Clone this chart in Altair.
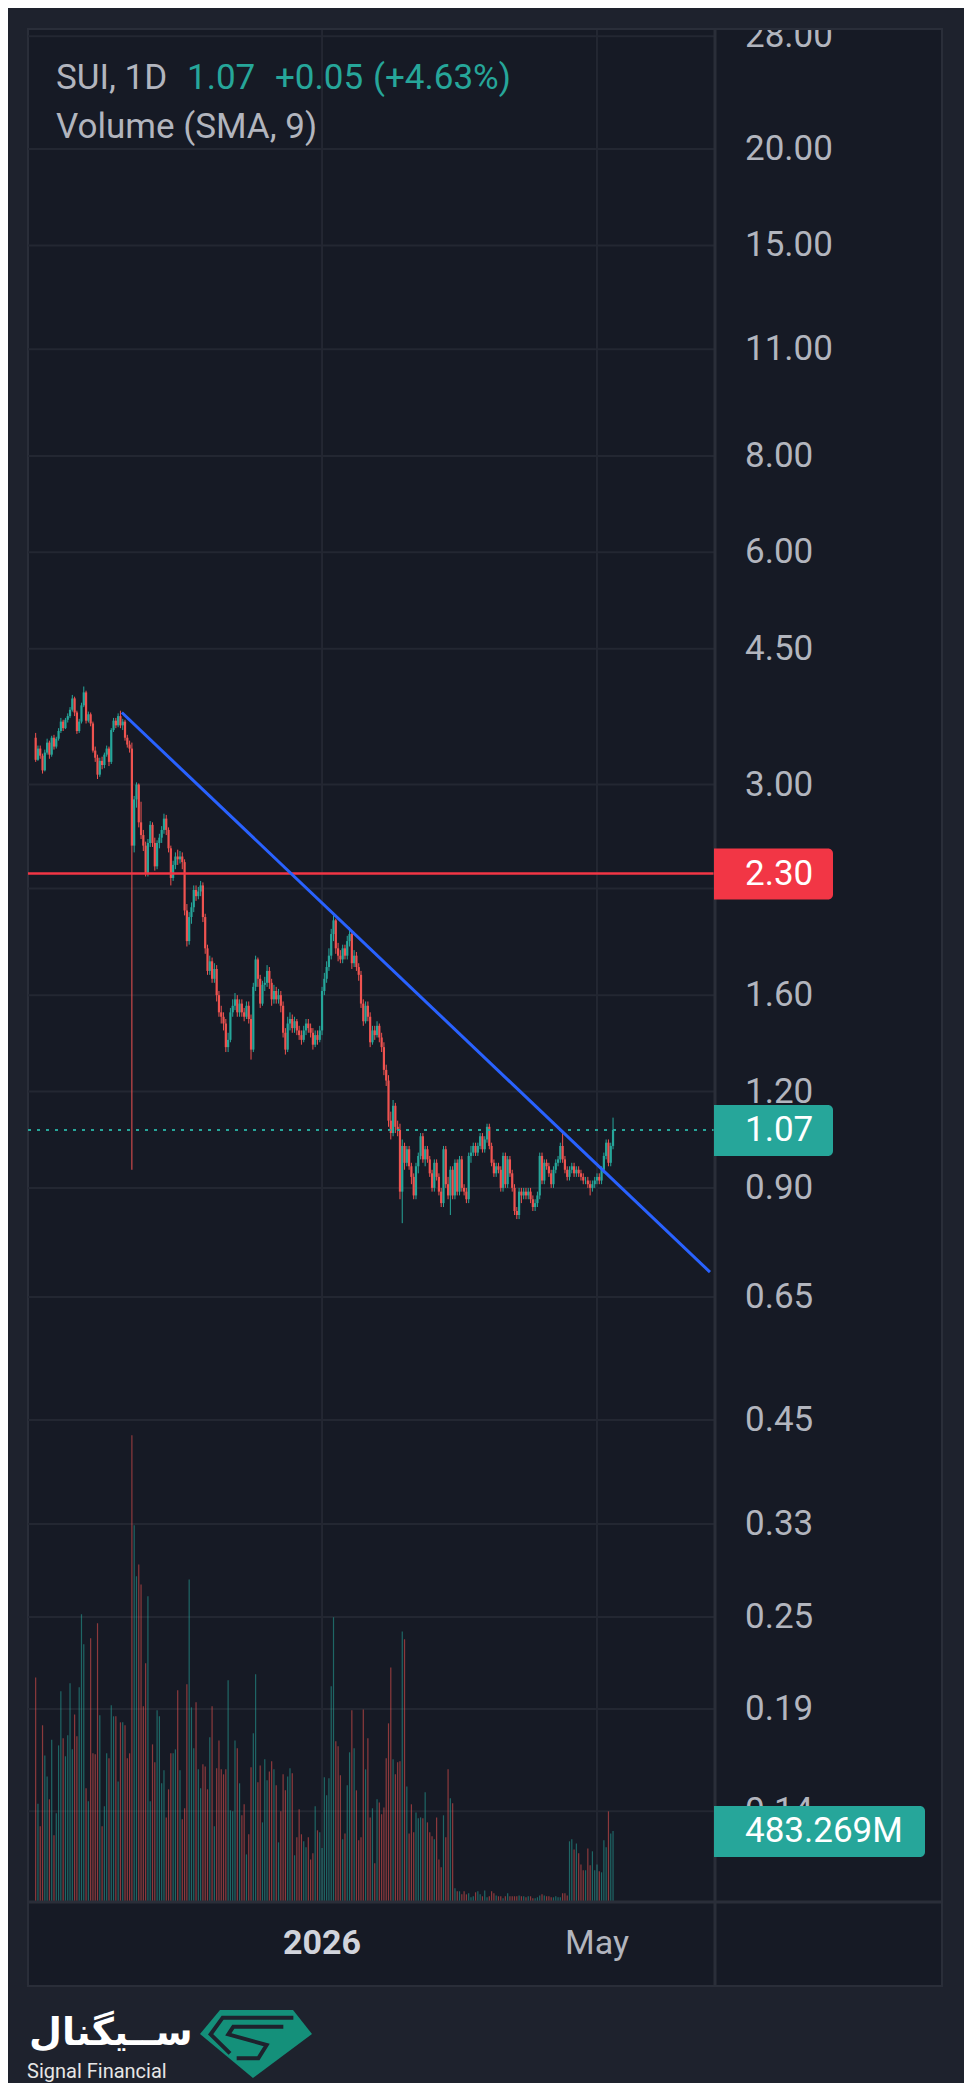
import altair as alt
import numpy as np
import pandas as pd

# ---------------- data ----------------
START_DATE = "2025-08-29"
FIRST_OPEN = 3.45

closes = [
    3.23, 3.34, 3.27, 3.13, 3.30, 3.40, 3.28, 3.45, 3.36, 3.44,
    3.52, 3.62, 3.55, 3.64, 3.68, 3.75, 3.88, 3.72, 3.52, 3.62,
    3.80, 3.95, 3.63, 3.70, 3.60, 3.32, 3.25, 3.09, 3.22, 3.18,
    3.28, 3.34, 3.21, 3.53, 3.63, 3.58, 3.68, 3.58, 3.62, 3.45,
    3.38, 3.34, 2.50, 2.87, 3.00, 2.68, 2.58, 2.50, 2.30, 2.52,
    2.66, 2.52, 2.35, 2.52, 2.56, 2.62, 2.71, 2.62, 2.48, 2.27,
    2.36, 2.42, 2.40, 2.42, 2.38, 2.06, 1.88, 2.02, 2.08, 2.19,
    2.15, 2.18, 2.22, 2.02, 1.84, 1.72, 1.77, 1.68, 1.73, 1.60,
    1.52, 1.50, 1.47, 1.37, 1.40, 1.52, 1.55, 1.58, 1.52, 1.56,
    1.52, 1.50, 1.55, 1.49, 1.36, 1.64, 1.78, 1.68, 1.56, 1.65,
    1.66, 1.72, 1.66, 1.58, 1.62, 1.58, 1.60, 1.55, 1.43, 1.36,
    1.47, 1.49, 1.45, 1.48, 1.44, 1.42, 1.40, 1.44, 1.47, 1.45,
    1.43, 1.38, 1.42, 1.40, 1.44, 1.62, 1.68, 1.74, 1.80, 1.92,
    2.00, 1.84, 1.80, 1.78, 1.84, 1.80, 1.88, 1.92, 1.76, 1.80,
    1.74, 1.70, 1.56, 1.48, 1.55, 1.50, 1.39, 1.44, 1.42, 1.46,
    1.41, 1.37, 1.28, 1.24, 1.10, 1.06, 1.15, 1.08, 1.07, 0.89,
    1.02, 0.97, 1.01, 0.96, 0.93, 0.88, 0.96, 0.99, 1.05, 0.98,
    1.01, 0.98, 0.94, 0.90, 0.97, 0.93, 0.89, 0.86, 1.01, 0.91,
    0.88, 0.95, 0.88, 0.97, 0.89, 0.98, 0.90, 0.89, 0.87, 0.99,
    1.00, 1.02, 1.00, 1.02, 1.05, 1.01, 1.04, 1.08, 1.02, 0.97,
    0.94, 0.96, 0.95, 0.90, 0.99, 0.91, 0.98, 0.94, 0.90, 0.84,
    0.83, 0.89, 0.88, 0.89, 0.88, 0.89, 0.87, 0.85, 0.86, 0.88,
    0.99, 0.92, 0.97, 0.96, 0.94, 0.91, 0.95, 0.97, 0.98, 1.02,
    0.98, 0.95, 0.93, 0.95, 0.96, 0.94, 0.95, 0.94, 0.93, 0.92,
    0.92, 0.91, 0.90, 0.91, 0.92, 0.93, 0.92, 0.95, 0.99, 1.03,
    0.97, 1.02, 1.07,
]

highs = [
    3.50, 3.37, 3.37, 3.29, 3.33, 3.44, 3.42, 3.47, 3.48, 3.46,
    3.55, 3.66, 3.64, 3.66, 3.71, 3.78, 3.92, 3.90, 3.74, 3.65,
    3.83, 4.02, 3.97, 3.73, 3.72, 3.62, 3.36, 3.28, 3.25, 3.26,
    3.30, 3.37, 3.36, 3.55, 3.66, 3.66, 3.71, 3.74, 3.65, 3.64,
    3.48, 3.42, 3.40, 2.90, 3.02, 3.01, 2.85, 2.62, 2.53, 2.55,
    2.69, 2.68, 2.56, 2.54, 2.59, 2.65, 2.75, 2.74, 2.64, 2.50,
    2.39, 2.45, 2.47, 2.46, 2.45, 2.40, 2.10, 2.05, 2.11, 2.22,
    2.22, 2.21, 2.25, 2.24, 2.04, 1.86, 1.80, 1.79, 1.76, 1.75,
    1.62, 1.55, 1.52, 1.49, 1.43, 1.54, 1.58, 1.61, 1.60, 1.58,
    1.58, 1.54, 1.57, 1.57, 1.51, 1.66, 1.80, 1.79, 1.70, 1.67,
    1.69, 1.75, 1.74, 1.68, 1.65, 1.64, 1.63, 1.62, 1.57, 1.45,
    1.50, 1.52, 1.51, 1.50, 1.49, 1.46, 1.44, 1.46, 1.49, 1.49,
    1.47, 1.45, 1.44, 1.44, 1.46, 1.64, 1.71, 1.77, 1.84, 1.95,
    2.03, 2.01, 1.87, 1.83, 1.86, 1.86, 1.91, 1.96, 1.93, 1.83,
    1.82, 1.76, 1.72, 1.58, 1.57, 1.57, 1.52, 1.46, 1.46, 1.48,
    1.47, 1.43, 1.39, 1.30, 1.26, 1.13, 1.17, 1.16, 1.10, 1.09,
    1.04, 1.03, 1.02, 1.02, 0.97, 0.94, 0.97, 1.00, 1.06, 1.06,
    1.02, 1.02, 0.99, 0.95, 0.98, 0.98, 0.94, 0.90, 1.02, 1.02,
    0.93, 0.96, 0.96, 0.98, 0.98, 0.99, 0.99, 0.91, 0.90, 1.00,
    1.02, 1.03, 1.03, 1.03, 1.06, 1.06, 1.05, 1.09, 1.09, 1.03,
    0.98, 0.97, 0.97, 0.96, 1.00, 1.00, 0.99, 0.99, 0.95, 0.91,
    0.85, 0.90, 0.90, 0.90, 0.90, 0.90, 0.90, 0.88, 0.87, 0.89,
    1.00, 1.00, 0.98, 0.98, 0.97, 0.95, 0.96, 0.98, 0.99, 1.03,
    1.06, 0.99, 0.96, 0.96, 0.97, 0.97, 0.96, 0.96, 0.95, 0.94,
    0.93, 0.93, 0.92, 0.92, 0.93, 0.94, 0.94, 0.96, 1.00, 1.04,
    1.04, 1.03, 1.11,
]

lows = [
    3.21, 3.22, 3.24, 3.10, 3.12, 3.28, 3.24, 3.26, 3.33, 3.34,
    3.42, 3.50, 3.52, 3.54, 3.61, 3.66, 3.73, 3.68, 3.49, 3.50,
    3.60, 3.78, 3.60, 3.61, 3.57, 3.30, 3.21, 3.05, 3.07, 3.14,
    3.15, 3.26, 3.17, 3.19, 3.51, 3.55, 3.56, 3.55, 3.53, 3.42,
    3.35, 3.30, 0.95, 2.45, 2.80, 2.64, 2.55, 2.46, 2.28, 2.28,
    2.49, 2.49, 2.32, 2.33, 2.48, 2.52, 2.59, 2.58, 2.45, 2.22,
    2.25, 2.33, 2.36, 2.37, 2.33, 2.03, 1.85, 1.86, 1.98, 2.05,
    2.12, 2.13, 2.15, 1.99, 1.81, 1.70, 1.70, 1.66, 1.66, 1.57,
    1.50, 1.47, 1.44, 1.35, 1.35, 1.39, 1.50, 1.53, 1.50, 1.50,
    1.50, 1.48, 1.49, 1.47, 1.32, 1.35, 1.62, 1.64, 1.54, 1.55,
    1.62, 1.64, 1.63, 1.55, 1.56, 1.56, 1.56, 1.52, 1.41, 1.34,
    1.35, 1.44, 1.43, 1.43, 1.42, 1.40, 1.38, 1.39, 1.42, 1.43,
    1.41, 1.36, 1.37, 1.38, 1.39, 1.42, 1.60, 1.66, 1.72, 1.78,
    1.88, 1.81, 1.77, 1.76, 1.76, 1.78, 1.78, 1.85, 1.73, 1.74,
    1.72, 1.67, 1.54, 1.46, 1.47, 1.48, 1.37, 1.38, 1.40, 1.41,
    1.39, 1.35, 1.26, 1.22, 1.08, 1.04, 1.05, 1.06, 1.05, 0.87,
    0.81, 0.95, 0.96, 0.95, 0.91, 0.87, 0.87, 0.94, 0.98, 0.97,
    0.96, 0.97, 0.93, 0.89, 0.89, 0.92, 0.88, 0.85, 0.85, 0.90,
    0.87, 0.83, 0.87, 0.87, 0.88, 0.88, 0.89, 0.88, 0.86, 0.86,
    0.97, 0.99, 0.99, 0.99, 1.01, 1.00, 1.00, 1.03, 1.01, 0.96,
    0.93, 0.93, 0.94, 0.89, 0.89, 0.90, 0.90, 0.93, 0.89, 0.83,
    0.82, 0.82, 0.86, 0.87, 0.87, 0.87, 0.86, 0.84, 0.84, 0.85,
    0.87, 0.91, 0.91, 0.95, 0.93, 0.90, 0.90, 0.94, 0.96, 0.97,
    0.97, 0.94, 0.92, 0.92, 0.94, 0.93, 0.93, 0.93, 0.92, 0.91,
    0.91, 0.90, 0.88, 0.89, 0.90, 0.91, 0.91, 0.91, 0.94, 0.98,
    0.96, 0.96, 1.01,
]

# daily volume, millions
volumes_m = [
    1529, 669, 515, 1203, 998, 855, 699, 1105, 454, 604,
    1066, 1434, 1114, 992, 1135, 1489, 1039, 1277, 1128, 1461,
    1958, 1754, 774, 685, 1795, 1012, 1005, 1897, 1271, 515,
    651, 1012, 978, 1339, 1264, 1264, 821, 1223, 1223, 1203,
    978, 1012, 3177, 2564, 2217, 2298, 2162, 1332, 1625, 2081,
    685, 1073, 951, 1305, 1264, 808, 896, 576, 767, 1012,
    1012, 1039, 1441, 896, 563, 638, 1482, 2196, 1325, 1046,
    1359, 903, 774, 937, 923, 767, 1121, 1332, 515, 910,
    1100, 903, 869, 903, 1509, 624, 617, 1100, 1046, 808,
    590, 665, 324, 461, 917, 1148, 1550, 815, 930, 542,
    971, 828, 889, 958, 903, 794, 406, 617, 869, 760,
    855, 910, 876, 318, 440, 631, 461, 413, 372, 440,
    290, 331, 651, 488, 474, 368, 849, 726, 842, 1468,
    1938, 1094, 1060, 862, 427, 467, 794, 1019, 1305, 1046,
    760, 420, 440, 1311, 903, 1114, 576, 638, 263, 699,
    678, 597, 644, 978, 1216, 1597, 971, 869, 951, 958,
    1842, 1788, 787, 467, 665, 474, 610, 570, 576, 570,
    747, 542, 474, 447, 427, 576, 290, 236, 590, 440,
    903, 706, 672, 93, 73, 73, 52, 73, 52, 59,
    32, 39, 66, 73, 52, 39, 79, 32, 39, 73,
    59, 45, 39, 39, 25, 39, 59, 39, 39, 39,
    39, 45, 39, 39, 32, 39, 39, 25, 25, 32,
    45, 52, 45, 39, 39, 32, 32, 39, 32, 32,
    59, 59, 45, 413, 427, 358, 399, 331, 256, 216,
    216, 365, 250, 345, 216, 256, 209, 202, 420, 372,
    617, 467, 483.269,
]

price_ticks = [28, 20, 15, 11, 8, 6, 4.5, 3, 2.2, 1.6, 1.2, 0.9, 0.65, 0.45, 0.33, 0.25, 0.19, 0.14]
price_tick_labels = [f"{v:.2f}" for v in price_ticks]
time_tick_dates = ["2026-01-01", "2026-05-01"]
time_tick_labels = ["2026", "May"]

resistance_level = 2.30
last_close = 1.07
last_volume_m = 483.269
trend_days = [37.6, 294.3]      # days after START_DATE
trend_prices = [3.72, 0.70]

header_symbol = "SUI, 1D"
header_price = "1.07"
header_change = "+0.05"
header_pct = "(+4.63%)"
header_volume = "Volume (SMA, 9)"
brand_fa = "ســیگنال"
brand_en = "Signal Financial"

# ---------------- tables ----------------
start = pd.Timestamp(START_DATE)
n = len(closes)
opens = [FIRST_OPEN] + closes[:-1]
candles = pd.DataFrame({
    "day": np.arange(n),
    "date": pd.date_range(start, periods=n, freq="D").strftime("%Y-%m-%d"),
    "open": opens,
    "close": closes,
    "high": highs,
    "low": lows,
    "volume": volumes_m,
})
candles["dir"] = np.where(candles["close"] >= candles["open"], "up", "down")

ticks_df = pd.DataFrame({"value": price_ticks, "label": price_tick_labels})
time_df = pd.DataFrame({
    "day": [(pd.Timestamp(d) - start).days for d in time_tick_dates],
    "label": time_tick_labels,
})
trend_df = pd.DataFrame({"day": trend_days, "price": trend_prices})
level_df = pd.DataFrame({"v": [resistance_level], "label": [f"{resistance_level:.2f}"]})
last_df = pd.DataFrame({"v": [last_close], "label": [f"{last_close:.2f}"]})
vol_df = pd.DataFrame({"v": [last_volume_m], "label": [f"{last_volume_m:.3f}M"]})
one = pd.DataFrame({"k": [0]})

# ---------------- style ----------------
W, H = 956, 2075
OUTER = "#1E222D"
PANEL = "#161A25"
GRID = "#232732"
BORDER = "#2A2E39"
UP = "#26A69A"
DOWN = "#EF5350"
LEVEL_RED = "#F23645"
BLUE = "#2962FF"
LABEL = "#B2B5BE"
FONT = "Roboto"

PLOT_L, PLOT_R, PLOT_T, PLOT_B = 20, 707, 21, 1894
PANEL_R, PANEL_B = 934, 1978

X_SCALE = alt.Scale(domain=[-1.16, 294.32], range=[PLOT_L, PLOT_R], zero=False, nice=False)
P_SCALE = alt.Scale(type="log", domain=[0.10678, 28.53], range=[PLOT_B, 22], nice=False)
V_SCALE = alt.Scale(domain=[0, 3200], range=[PLOT_B, PLOT_B - 470.1], nice=False, zero=True)
DIR_COLOR = alt.Color("dir:N", scale=alt.Scale(domain=["up", "down"], range=[UP, DOWN]), legend=None)


def px(f):
    return alt.X(f"{f}:Q", scale=X_SCALE, axis=None)


def py(f):
    return alt.Y(f"{f}:Q", scale=P_SCALE, axis=None)


layers = []

# panel background
layers.append(alt.Chart(one).mark_rect(fill=PANEL, stroke=BORDER, strokeWidth=2).encode(
    x=alt.value(PLOT_L), x2=alt.value(PANEL_R), y=alt.value(PLOT_T), y2=alt.value(PANEL_B)))

# grid
layers.append(alt.Chart(ticks_df).mark_rule(color=GRID, strokeWidth=2).encode(
    y=py("value"), x=alt.value(PLOT_L), x2=alt.value(PLOT_R)))
layers.append(alt.Chart(time_df).mark_rule(color=GRID, strokeWidth=2).encode(
    x=px("day"), y=alt.value(PLOT_T), y2=alt.value(PLOT_B)))

# volume
layers.append(alt.Chart(candles).mark_rule(strokeWidth=1.2, opacity=0.55).encode(
    x=px("day"), y=alt.Y("volume:Q", scale=V_SCALE, axis=None), y2=alt.value(PLOT_B), color=DIR_COLOR))

# candles
layers.append(alt.Chart(candles).mark_rule(strokeWidth=1).encode(
    x=px("day"), y=py("low"), y2=alt.Y2("high:Q"), color=DIR_COLOR))
layers.append(alt.Chart(candles).mark_bar(size=2.2).encode(
    x=px("day"), y=py("open"), y2=alt.Y2("close:Q"), color=DIR_COLOR))

# horizontal level, last price, trendline
layers.append(alt.Chart(level_df).mark_rule(color=LEVEL_RED, strokeWidth=2.5).encode(
    y=py("v"), x=alt.value(PLOT_L), x2=alt.value(PLOT_R)))
layers.append(alt.Chart(last_df).mark_rule(color=UP, strokeWidth=2, strokeDash=[3, 6]).encode(
    y=py("v"), x=alt.value(PLOT_L), x2=alt.value(PLOT_R)))
layers.append(alt.Chart(trend_df).mark_line(color=BLUE, strokeWidth=3).encode(
    x=px("day"), y=py("price")))


# header
def htext(txt, x, y, color):
    return alt.Chart(one).mark_text(text=txt, font=FONT, fontSize=35, color=color,
                                    align="left", baseline="alphabetic").encode(
        x=alt.value(x), y=alt.value(y))


layers += [
    htext(header_symbol, 48, 81, LABEL),
    htext(header_price, 179, 81, UP),
    htext(header_change, 267, 81, UP),
    htext(header_pct, 365, 81, UP),
    htext(header_volume, 48, 130, LABEL),
]

# price-scale labels
layers.append(alt.Chart(ticks_df).mark_text(font=FONT, fontSize=35, color=LABEL, align="left",
                                             baseline="middle").encode(
    x=alt.value(737), y=py("value"), text="label:N"))

# cover above the panel (clips the top label) + frame lines
layers.append(alt.Chart(one).mark_rect(fill=OUTER).encode(
    x=alt.value(0), x2=alt.value(W), y=alt.value(0), y2=alt.value(20)))
layers.append(alt.Chart(one).mark_rule(color=BORDER, strokeWidth=2).encode(
    x=alt.value(PLOT_L), x2=alt.value(PANEL_R), y=alt.value(PLOT_T)))
layers.append(alt.Chart(one).mark_rule(color=BORDER, strokeWidth=3).encode(
    x=alt.value(PLOT_R), y=alt.value(PLOT_T), y2=alt.value(PANEL_B)))
layers.append(alt.Chart(one).mark_rule(color=BORDER, strokeWidth=3).encode(
    x=alt.value(PLOT_L), x2=alt.value(PANEL_R), y=alt.value(PLOT_B)))


# price tags
def tag(df, color, x2, yenc):
    box = alt.Chart(df).mark_rect(color=color, cornerRadiusTopRight=5, cornerRadiusBottomRight=5,
                                  yOffset=-25, y2Offset=26).encode(
        x=alt.value(706), x2=alt.value(x2), y=yenc, y2=alt.Y2("v:Q"))
    txt = alt.Chart(df).mark_text(font=FONT, fontSize=35, color="white", align="left",
                                  baseline="middle").encode(
        x=alt.value(737), y=yenc, text="label:N")
    return [box, txt]


layers += tag(level_df, LEVEL_RED, 825, py("v"))
layers += tag(last_df, UP, 825, py("v"))
layers += tag(vol_df, UP, 917, alt.Y("v:Q", scale=V_SCALE, axis=None))

# time labels
layers.append(alt.Chart(time_df.iloc[[0]]).mark_text(font=FONT, fontSize=34, fontWeight="bold",
                                                      color="#D1D4DC", align="center",
                                                      baseline="middle").encode(
    x=px("day"), y=alt.value(1936), text="label:N"))
layers.append(alt.Chart(time_df.iloc[[1]]).mark_text(font=FONT, fontSize=34, color=LABEL,
                                                      align="center", baseline="middle").encode(
    x=px("day"), y=alt.value(1936), text="label:N"))

# logo
GEM = "M-0.643,-0.607 L0.661,-0.607 L1,-0.179 L-0.054,0.607 L-1,-0.179 Z"
CUT_OUTER = "M0.667,-0.47 L-0.595,-0.47 L-0.81,-0.173 L-0.464,0.167"
CUT_S = "M0.488,-0.31 L-0.405,-0.31 L-0.494,-0.173 L0.19,0.018 L0.042,0.256 L-0.345,0.256"
LOGO_X, LOGO_Y, LOGO_SIZE = 248, 2036, 12544
layers.append(alt.Chart(one).mark_point(shape=GEM, size=LOGO_SIZE, filled=True, color="#14907A",
                                         opacity=1, strokeWidth=0).encode(
    x=alt.value(LOGO_X), y=alt.value(LOGO_Y)))
for cut in (CUT_OUTER, CUT_S):
    layers.append(alt.Chart(one).mark_point(shape=cut, size=LOGO_SIZE, filled=False, color=OUTER,
                                             opacity=1, strokeWidth=4).encode(
        x=alt.value(LOGO_X), y=alt.value(LOGO_Y)))
layers.append(alt.Chart(one).mark_text(text=brand_fa, font="DejaVu Sans", fontWeight="bold",
                                        fontSize=38, color="white", align="left",
                                        baseline="alphabetic").encode(
    x=alt.value(21), y=alt.value(2037)))
layers.append(alt.Chart(one).mark_text(text=brand_en, font=FONT, fontSize=20, color="#E6E6E6",
                                        align="left", baseline="alphabetic").encode(
    x=alt.value(19), y=alt.value(2070)))

chart = alt.layer(*layers).resolve_scale(y="independent").properties(
    width=W, height=H, background=OUTER, padding=0,
    autosize=alt.AutoSizeParams(type="none"),
).configure_view(strokeWidth=0)

chart.save("out.html", embed_options={"renderer": "svg", "actions": False})
